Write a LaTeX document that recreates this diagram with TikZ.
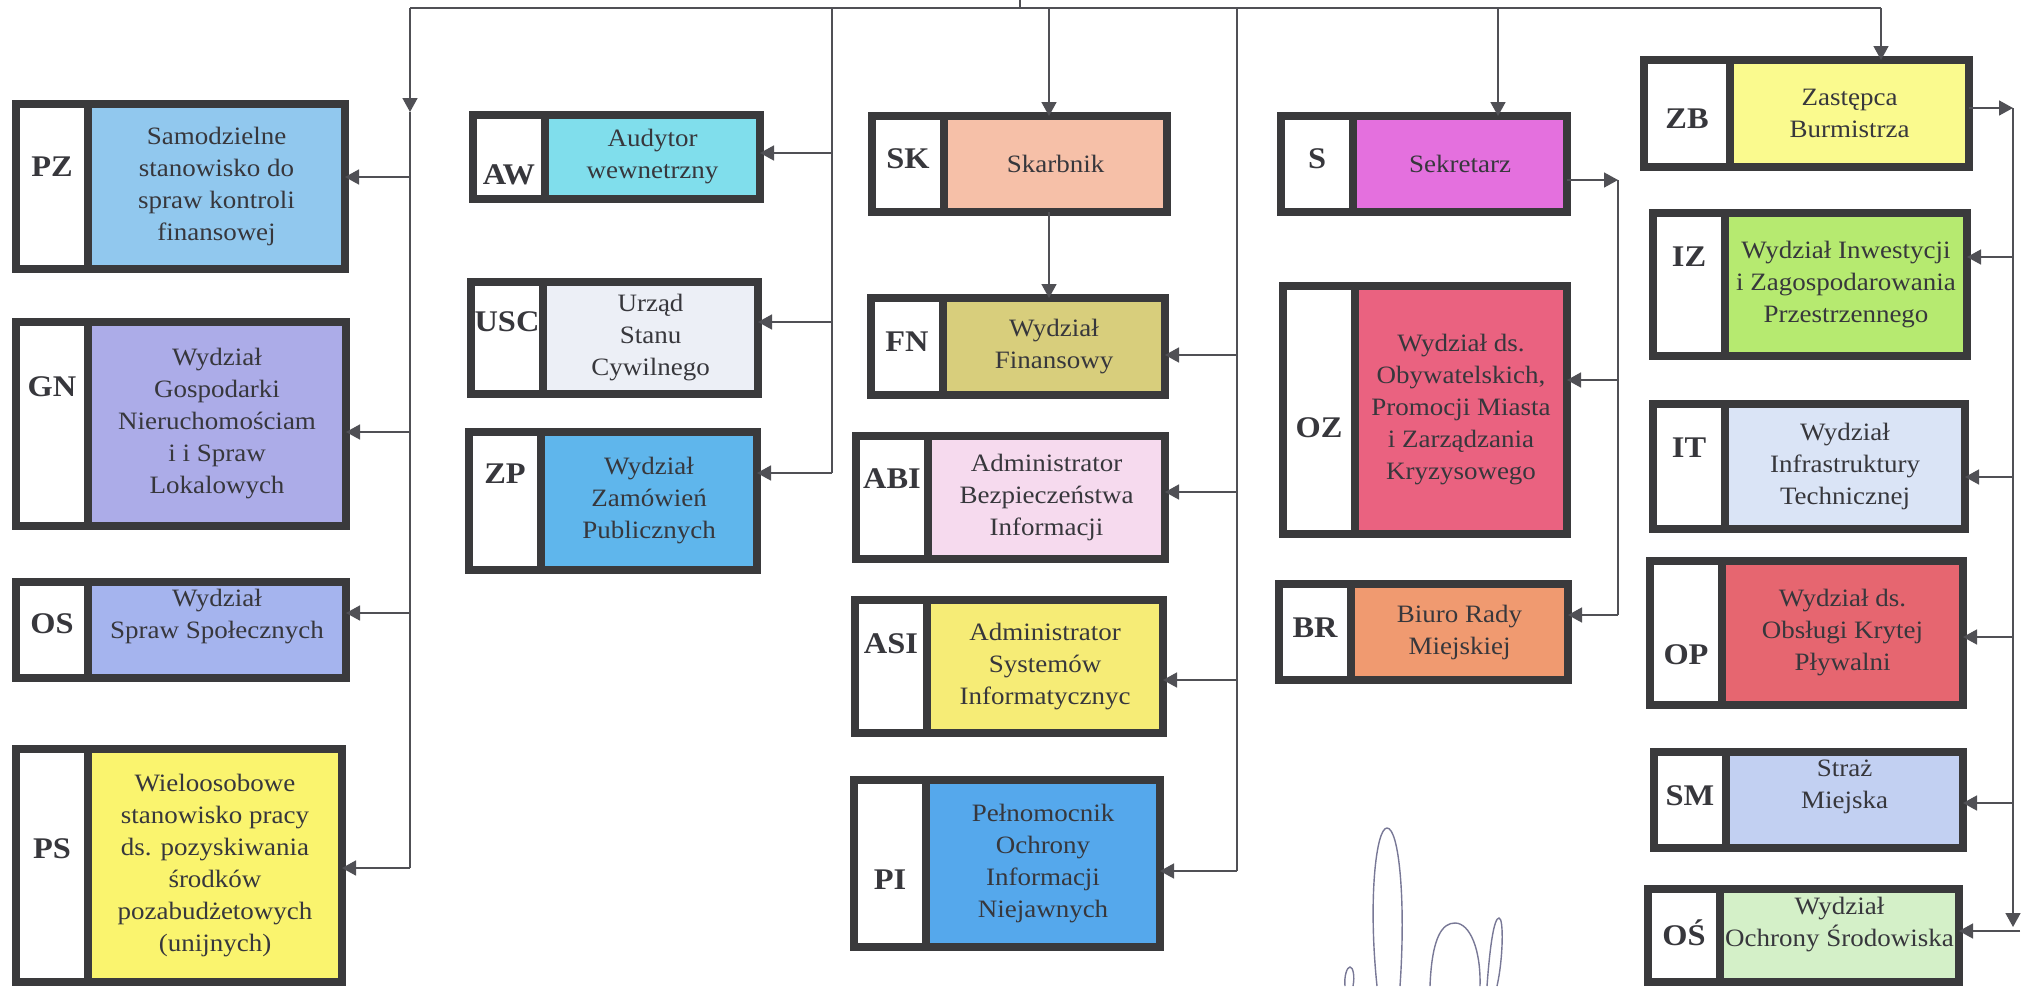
\documentclass[tikz,border=0pt]{standalone}
\usepackage{fontspec}
\setmainfont{Liberation Serif}[FakeStretch=1.08]
\usetikzlibrary{arrows.meta}

\definecolor{ink}{RGB}{55,55,60}
\definecolor{boxline}{RGB}{58,58,60}
\definecolor{wirecol}{RGB}{80,80,85}
\definecolor{cPZ}{RGB}{145,200,238}
\definecolor{cGN}{RGB}{172,172,232}
\definecolor{cOS}{RGB}{165,180,238}
\definecolor{cPS}{RGB}{250,244,110}
\definecolor{cAW}{RGB}{128,222,236}
\definecolor{cUSC}{RGB}{236,239,246}
\definecolor{cZP}{RGB}{95,182,236}
\definecolor{cSK}{RGB}{246,192,168}
\definecolor{cFN}{RGB}{216,206,124}
\definecolor{cABI}{RGB}{246,218,238}
\definecolor{cASI}{RGB}{246,236,118}
\definecolor{cPI}{RGB}{85,168,236}
\definecolor{cS}{RGB}{228,112,222}
\definecolor{cOZ}{RGB}{234,98,128}
\definecolor{cBR}{RGB}{240,154,112}
\definecolor{cZB}{RGB}{250,250,142}
\definecolor{cIZ}{RGB}{182,234,112}
\definecolor{cIT}{RGB}{218,228,246}
\definecolor{cOP}{RGB}{230,102,112}
\definecolor{cSM}{RGB}{194,208,242}
\definecolor{cOSR}{RGB}{212,240,200}
\definecolor{signink}{RGB}{120,120,150}

\tikzset{
  maincell/.style={draw=boxline, line width=8pt, outer sep=0pt, inner sep=2pt,
    align=center, text=ink, font=\fontsize{25}{32}\selectfont},
  tagcell/.style={draw=boxline, line width=8pt, outer sep=0pt, fill=white,
    minimum width=72pt},
  tagtext/.style={text=ink, font=\bfseries\fontsize{30}{32}\selectfont},
  wire/.style={draw=wirecol, line width=1.6pt},
  feed/.style={wire, -{Triangle[length=14pt,width=15pt]}},
}

% [tag shift]{name}{divider x}{top}{right}{bottom}{colour}{tag}{text}
\newcommand{\orgbox}[9][0]{%
  \node[maincell, fill=#7, minimum width={#5-4-#3}, minimum height={#6-#4-8}]
    (#2) at ({(#3+#5-4)/2},{(#4+#6)/2}) {#9};
  \node[tagcell, minimum height={#6-#4-8}, anchor=east] (#2t) at (#2.west) {};
  \node[tagtext, yshift=#1] (#2l) at (#2t) {#8};
}

\begin{document}
\begin{tikzpicture}[x=1pt,y=-1pt]
        \useasboundingbox (0,0) rectangle (2027,986);

        % Left column
        \orgbox[20]{pz}{88}{100}{349}{273}{cPZ}{PZ}{Samodzielne\\stanowisko do\\spraw kontroli\\finansowej}
        \orgbox[37]{gn}{88}{318}{350}{530}{cGN}{GN}{Wydział\\Gospodarki\\Nieruchomościam\\i i Spraw\\Lokalowych}
        \orgbox[6]{oss}{88}{578}{350}{682}{cOS}{OS}{Wydział\\Spraw Społecznych\\[-10pt]\strut}
        \orgbox[17]{ps}{88}{745}{346}{986}{cPS}{PS}{Wieloosobowe\\stanowisko pracy\\ds. pozyskiwania\\środków\\pozabudżetowych\\(unijnych)}

        % Second column
        \orgbox[-18]{aw}{545}{111}{764}{203}{cAW}{AW}{Audytor\\wewnetrzny}
        \orgbox[16]{usc}{543}{278}{762}{398}{cUSC}{USC}{Urząd\\Stanu\\Cywilnego}
        \orgbox[27]{zp}{541}{428}{761}{574}{cZP}{ZP}{Wydział\\Zamówień\\Publicznych}

        % Treasurer column
        \orgbox[5]{sk}{944}{112}{1171}{216}{cSK}{SK}{Skarbnik}
        \orgbox[5]{fn}{943}{294}{1169}{399}{cFN}{FN}{Wydział\\Finansowy}
        \orgbox[19]{abi}{928}{432}{1169}{563}{cABI}{ABI}{Administrator\\Bezpieczeństwa\\Informacji}
        \orgbox[23]{asi}{927}{596}{1167}{737}{cASI}{ASI}{Administrator\\Systemów\\Informatycznyc}
        \orgbox[-16]{pi}{926}{776}{1164}{951}{cPI}{PI}{Pełnomocnik\\Ochrony\\Informacji\\Niejawnych}

        % Secretary column
        \orgbox[5]{s}{1353}{112}{1571}{216}{cS}{S}{Sekretarz}
        \orgbox[-18]{oz}{1355}{282}{1571}{538}{cOZ}{OZ}{Wydział ds.\\Obywatelskich,\\Promocji Miasta\\i Zarządzania\\Kryzysowego}
        \orgbox[4]{br}{1351}{580}{1572}{684}{cBR}{BR}{Biuro Rady\\Miejskiej}

        % Deputy column
        \begin{scope}[tagcell/.append style={minimum width=86pt}]
        \orgbox[-5]{zb}{1730}{56}{1973}{171}{cZB}{ZB}{Zastępca\\Burmistrza}
        \end{scope}
        \orgbox[28]{iz}{1725}{209}{1971}{360}{cIZ}{IZ}{Wydział Inwestycji\\i Zagospodarowania\\Przestrzennego}
        \orgbox[19]{it}{1725}{400}{1969}{533}{cIT}{IT}{Wydział\\Infrastruktury\\Technicznej}
        \orgbox[-22]{op}{1722}{557}{1967}{709}{cOP}{OP}{Wydział ds.\\Obsługi Krytej\\Pływalni}
        \orgbox[4]{sm}{1726}{748}{1967}{852}{cSM}{SM}{Straż\\Miejska\\[-10pt]\strut}
        \orgbox[3]{osr}{1720}{885}{1963}{986}{cOSR}{OŚ}{Wydział\\Ochrony Środowiska\\[-14pt]\strut}

        % Bus points
        \coordinate (root) at (1020,0);
        \coordinate (hub) at (1020,8);
        \coordinate (bL) at (410,8);
        \coordinate (bA) at (832,8);
        \coordinate (bK) at (1049,8);
        \coordinate (bB) at (1237,8);
        \coordinate (bS) at (1498,8);
        \coordinate (bR) at (1881,8);
        \coordinate (sOut) at (1618,180);
        \coordinate (zOut) at (2013,108);

        % Top line
        \draw[wire] (root) -- (hub);
        \draw[wire] (bL) -- (bR);

        % Left bus
        \draw[feed] (bL) -- (bL |- 0,112);
        \draw[wire] (bL |- 0,112) -- (bL |- 0,868);
        \draw[feed] (bL |- 0,177) -- (0,177 -| pz.east);
        \draw[feed] (bL |- 0,432) -- (0,432 -| gn.east);
        \draw[feed] (bL |- 0,613) -- (0,613 -| oss.east);
        \draw[feed] (bL |- 0,868) -- (0,868 -| ps.east);

        % Second bus
        \draw[wire] (bA) -- (bA |- 0,473);
        \draw[feed] (bA |- 0,153) -- (0,153 -| aw.east);
        \draw[feed] (bA |- 0,322) -- (0,322 -| usc.east);
        \draw[feed] (bA |- 0,473) -- (0,473 -| zp.east);

        % Treasurer
        \draw[feed] (bK) -- (bK |- sk.north);
        \draw[feed] (bK |- sk.south) -- (bK |- fn.north);

        % Third bus
        \draw[wire] (bB) -- (bB |- 0,871);
        \draw[feed] (bB |- 0,355) -- (0,355 -| fn.east);
        \draw[feed] (bB |- 0,492) -- (0,492 -| abi.east);
        \draw[feed] (bB |- 0,680) -- (0,680 -| asi.east);
        \draw[feed] (bB |- 0,871) -- (0,871 -| pi.east);

        % Secretary
        \draw[feed] (bS) -- (bS |- s.north);
        \draw[feed] (s.east |- sOut) -- (sOut);
        \draw[wire] (sOut) -- (sOut |- 0,615);
        \draw[feed] (sOut |- 0,380) -- (0,380 -| oz.east);
        \draw[feed] (sOut |- 0,615) -- (0,615 -| br.east);

        % Deputy
        \draw[feed] (bR) -- (bR |- zb.north);
        \draw[feed] (zb.east |- zOut) -- (zOut);
        \draw[feed] (zOut) -- (zOut |- 0,927);
        \draw[feed] (zOut |- 0,257) -- (0,257 -| iz.east);
        \draw[feed] (zOut |- 0,477) -- (0,477 -| it.east);
        \draw[feed] (zOut |- 0,637) -- (0,637 -| op.east);
        \draw[feed] (zOut |- 0,803) -- (0,803 -| sm.east);
        \draw[feed] (2020,931) -- (0,931 -| osr.east);

        % Signature
        \draw[signink, line width=1.4pt] (1377,986) .. controls (1368,900) and (1376,828) .. (1387,828)
          .. controls (1399,828) and (1406,900) .. (1400,986);
        \draw[signink, line width=1.4pt] (1430,986) .. controls (1432,935) and (1443,923) .. (1455,923)
          .. controls (1470,923) and (1481,950) .. (1480,986);
        \draw[signink, line width=1.4pt] (1487,986) .. controls (1490,945) and (1494,918) .. (1499,918)
          .. controls (1504,918) and (1503,960) .. (1497,986);
        \draw[signink, line width=1.4pt] (1345,986) .. controls (1344,976) and (1347,967) .. (1350,967)
          .. controls (1353,967) and (1355,976) .. (1353,986);
    \end{tikzpicture}
\end{document}
